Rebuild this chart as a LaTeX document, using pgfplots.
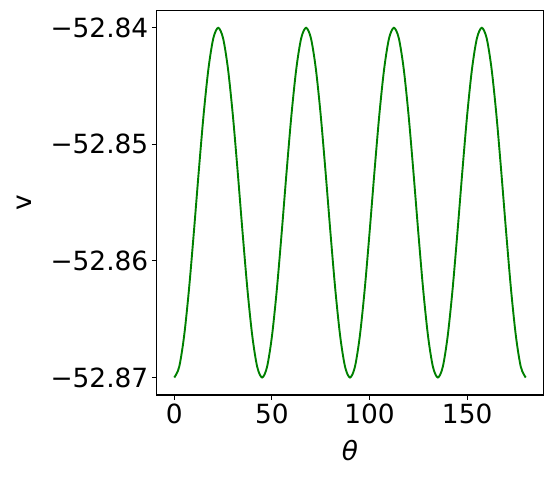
\documentclass[border=0pt]{standalone}
\usepackage{fontspec}
\setmainfont{DejaVu Sans}
\usepackage{pgfplots}
\pgfplotsset{compat=1.18}
\definecolor{mplgreen}{HTML}{008000}

% y is stored as (v + 52.87) * 1000, so 0 -> -52.87 and 30 -> -52.84
\begin{document}
\begin{tikzpicture}
\useasboundingbox (-156.7pt,-81pt) rectangle (396.3pt,395pt);
\begin{axis}[
  at={(0,0)}, anchor=south west,
  scale only axis,
  width=386.6pt, height=384.7pt,
  xmin=-9, xmax=189,
  ymin=-1.5, ymax=31.5,
  xtick={0,50,100,150},
  xticklabels={0,50,100,150},
  ytick={0,10,20,30},
  yticklabels={−52.87,−52.86,−52.85,−52.84},
  tick align=outside,
  tick pos=left,
  major tick length=4.9pt,
  every tick/.style={black, line width=1.1pt},
  axis line style={line width=1.1pt},
  tick label style={font=\fontsize{26.4}{30}\selectfont},
  xlabel={\textit{θ}},
  ylabel={v},
  xlabel style={font=\fontsize{26.4}{30}\selectfont, at={([yshift=-65pt]axis description cs:0.5,0)}, anchor=base},
  ylabel style={font=\fontsize{26.4}{30}\selectfont, at={([xshift=-124.7pt]axis description cs:0,0.5)}, anchor=base},
]
\addplot[mplgreen, line width=1.9pt, smooth] table {
x y
0 0.00
2.5 0.90
5 3.51
7.5 7.50
10 12.40
12.5 17.60
15 22.50
17.5 26.49
20 29.10
22.5 30.00
25 29.10
27.5 26.49
30 22.50
32.5 17.60
35 12.40
37.5 7.50
40 3.51
42.5 0.90
45 0.00
47.5 0.90
50 3.51
52.5 7.50
55 12.40
57.5 17.60
60 22.50
62.5 26.49
65 29.10
67.5 30.00
70 29.10
72.5 26.49
75 22.50
77.5 17.60
80 12.40
82.5 7.50
85 3.51
87.5 0.90
90 0.00
92.5 0.90
95 3.51
97.5 7.50
100 12.40
102.5 17.60
105 22.50
107.5 26.49
110 29.10
112.5 30.00
115 29.10
117.5 26.49
120 22.50
122.5 17.60
125 12.40
127.5 7.50
130 3.51
132.5 0.90
135 0.00
137.5 0.90
140 3.51
142.5 7.50
145 12.40
147.5 17.60
150 22.50
152.5 26.49
155 29.10
157.5 30.00
160 29.10
162.5 26.49
165 22.50
167.5 17.60
170 12.40
172.5 7.50
175 3.51
177.5 0.90
180 0.00
};
\end{axis}
\end{tikzpicture}
\end{document}
